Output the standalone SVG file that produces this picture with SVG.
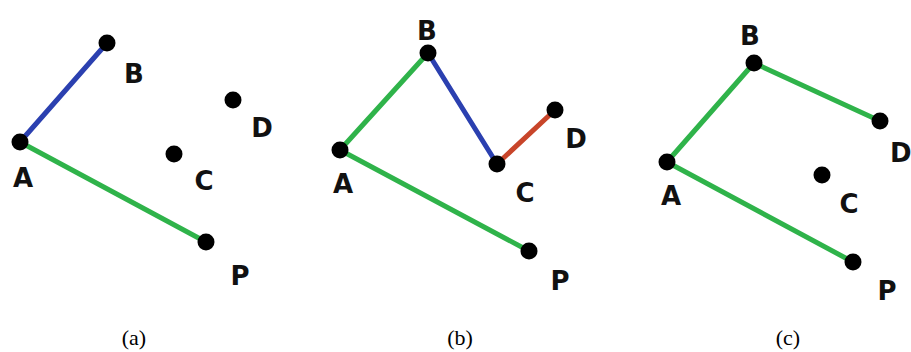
<svg xmlns="http://www.w3.org/2000/svg" width="911" height="352" viewBox="0 0 911 352">
<style>
.e{stroke-width:5;stroke-linecap:round;fill:none}
.g{stroke:#2fb34a}.b{stroke:#2b40b0}.r{stroke:#c8452a}
.d{fill:#000}
.l{font-family:"DejaVu Sans","Liberation Sans",sans-serif;font-weight:bold;font-size:26px;text-anchor:middle;fill:#111}
.c{font-family:"Liberation Serif",serif;font-size:22px;text-anchor:middle;fill:#000}
</style>
<rect width="911" height="352" fill="#fff"/>
<g id="connectors">
<line class="e b" x1="20" y1="142" x2="107" y2="43"/>
<line class="e g" x1="20" y1="142" x2="206" y2="242"/>
<line class="e g" x1="340" y1="150" x2="428" y2="53"/>
<line class="e g" x1="340" y1="150" x2="529" y2="251"/>
<line class="e b" x1="428" y1="53" x2="497" y2="164"/>
<line class="e r" x1="497" y1="164" x2="555" y2="110"/>
<line class="e g" x1="667" y1="162" x2="754" y2="63"/>
<line class="e g" x1="754" y1="63" x2="880" y2="121"/>
<line class="e g" x1="667" y1="162" x2="853" y2="262"/>
</g>
<g id="a-A"><circle class="d" cx="20" cy="142" r="8.5"/><text class="l" x="23" y="187">A</text></g>
<g id="a-B"><circle class="d" cx="107" cy="43" r="8.5"/><text class="l" x="134" y="83">B</text></g>
<g id="a-C"><circle class="d" cx="174" cy="154" r="8.5"/><text class="l" x="204" y="190">C</text></g>
<g id="a-D"><circle class="d" cx="233" cy="100" r="8.5"/><text class="l" x="262" y="137">D</text></g>
<g id="a-P"><circle class="d" cx="206" cy="242" r="8.5"/><text class="l" x="240" y="285">P</text></g>
<g id="b-A"><circle class="d" cx="340" cy="150" r="8.5"/><text class="l" x="343" y="193">A</text></g>
<g id="b-B"><circle class="d" cx="428" cy="53" r="8.5"/><text class="l" x="427" y="40">B</text></g>
<g id="b-C"><circle class="d" cx="497" cy="164" r="8.5"/><text class="l" x="525" y="202">C</text></g>
<g id="b-D"><circle class="d" cx="555" cy="110" r="8.5"/><text class="l" x="576" y="148">D</text></g>
<g id="b-P"><circle class="d" cx="529" cy="251" r="8.5"/><text class="l" x="560" y="290">P</text></g>
<g id="c-A"><circle class="d" cx="667" cy="162" r="8.5"/><text class="l" x="671" y="205">A</text></g>
<g id="c-B"><circle class="d" cx="754" cy="63" r="8.5"/><text class="l" x="750" y="45">B</text></g>
<g id="c-C"><circle class="d" cx="822" cy="175" r="8.5"/><text class="l" x="849" y="213">C</text></g>
<g id="c-D"><circle class="d" cx="880" cy="121" r="8.5"/><text class="l" x="890" y="162" style="text-anchor:start">D</text></g>
<g id="c-P"><circle class="d" cx="853" cy="262" r="8.5"/><text class="l" x="887" y="300">P</text></g>
<g id="captions">
<text class="c" x="134" y="345">(a)</text>
<text class="c" x="460" y="345">(b)</text>
<text class="c" x="788" y="345">(c)</text>
</g>
</svg>
